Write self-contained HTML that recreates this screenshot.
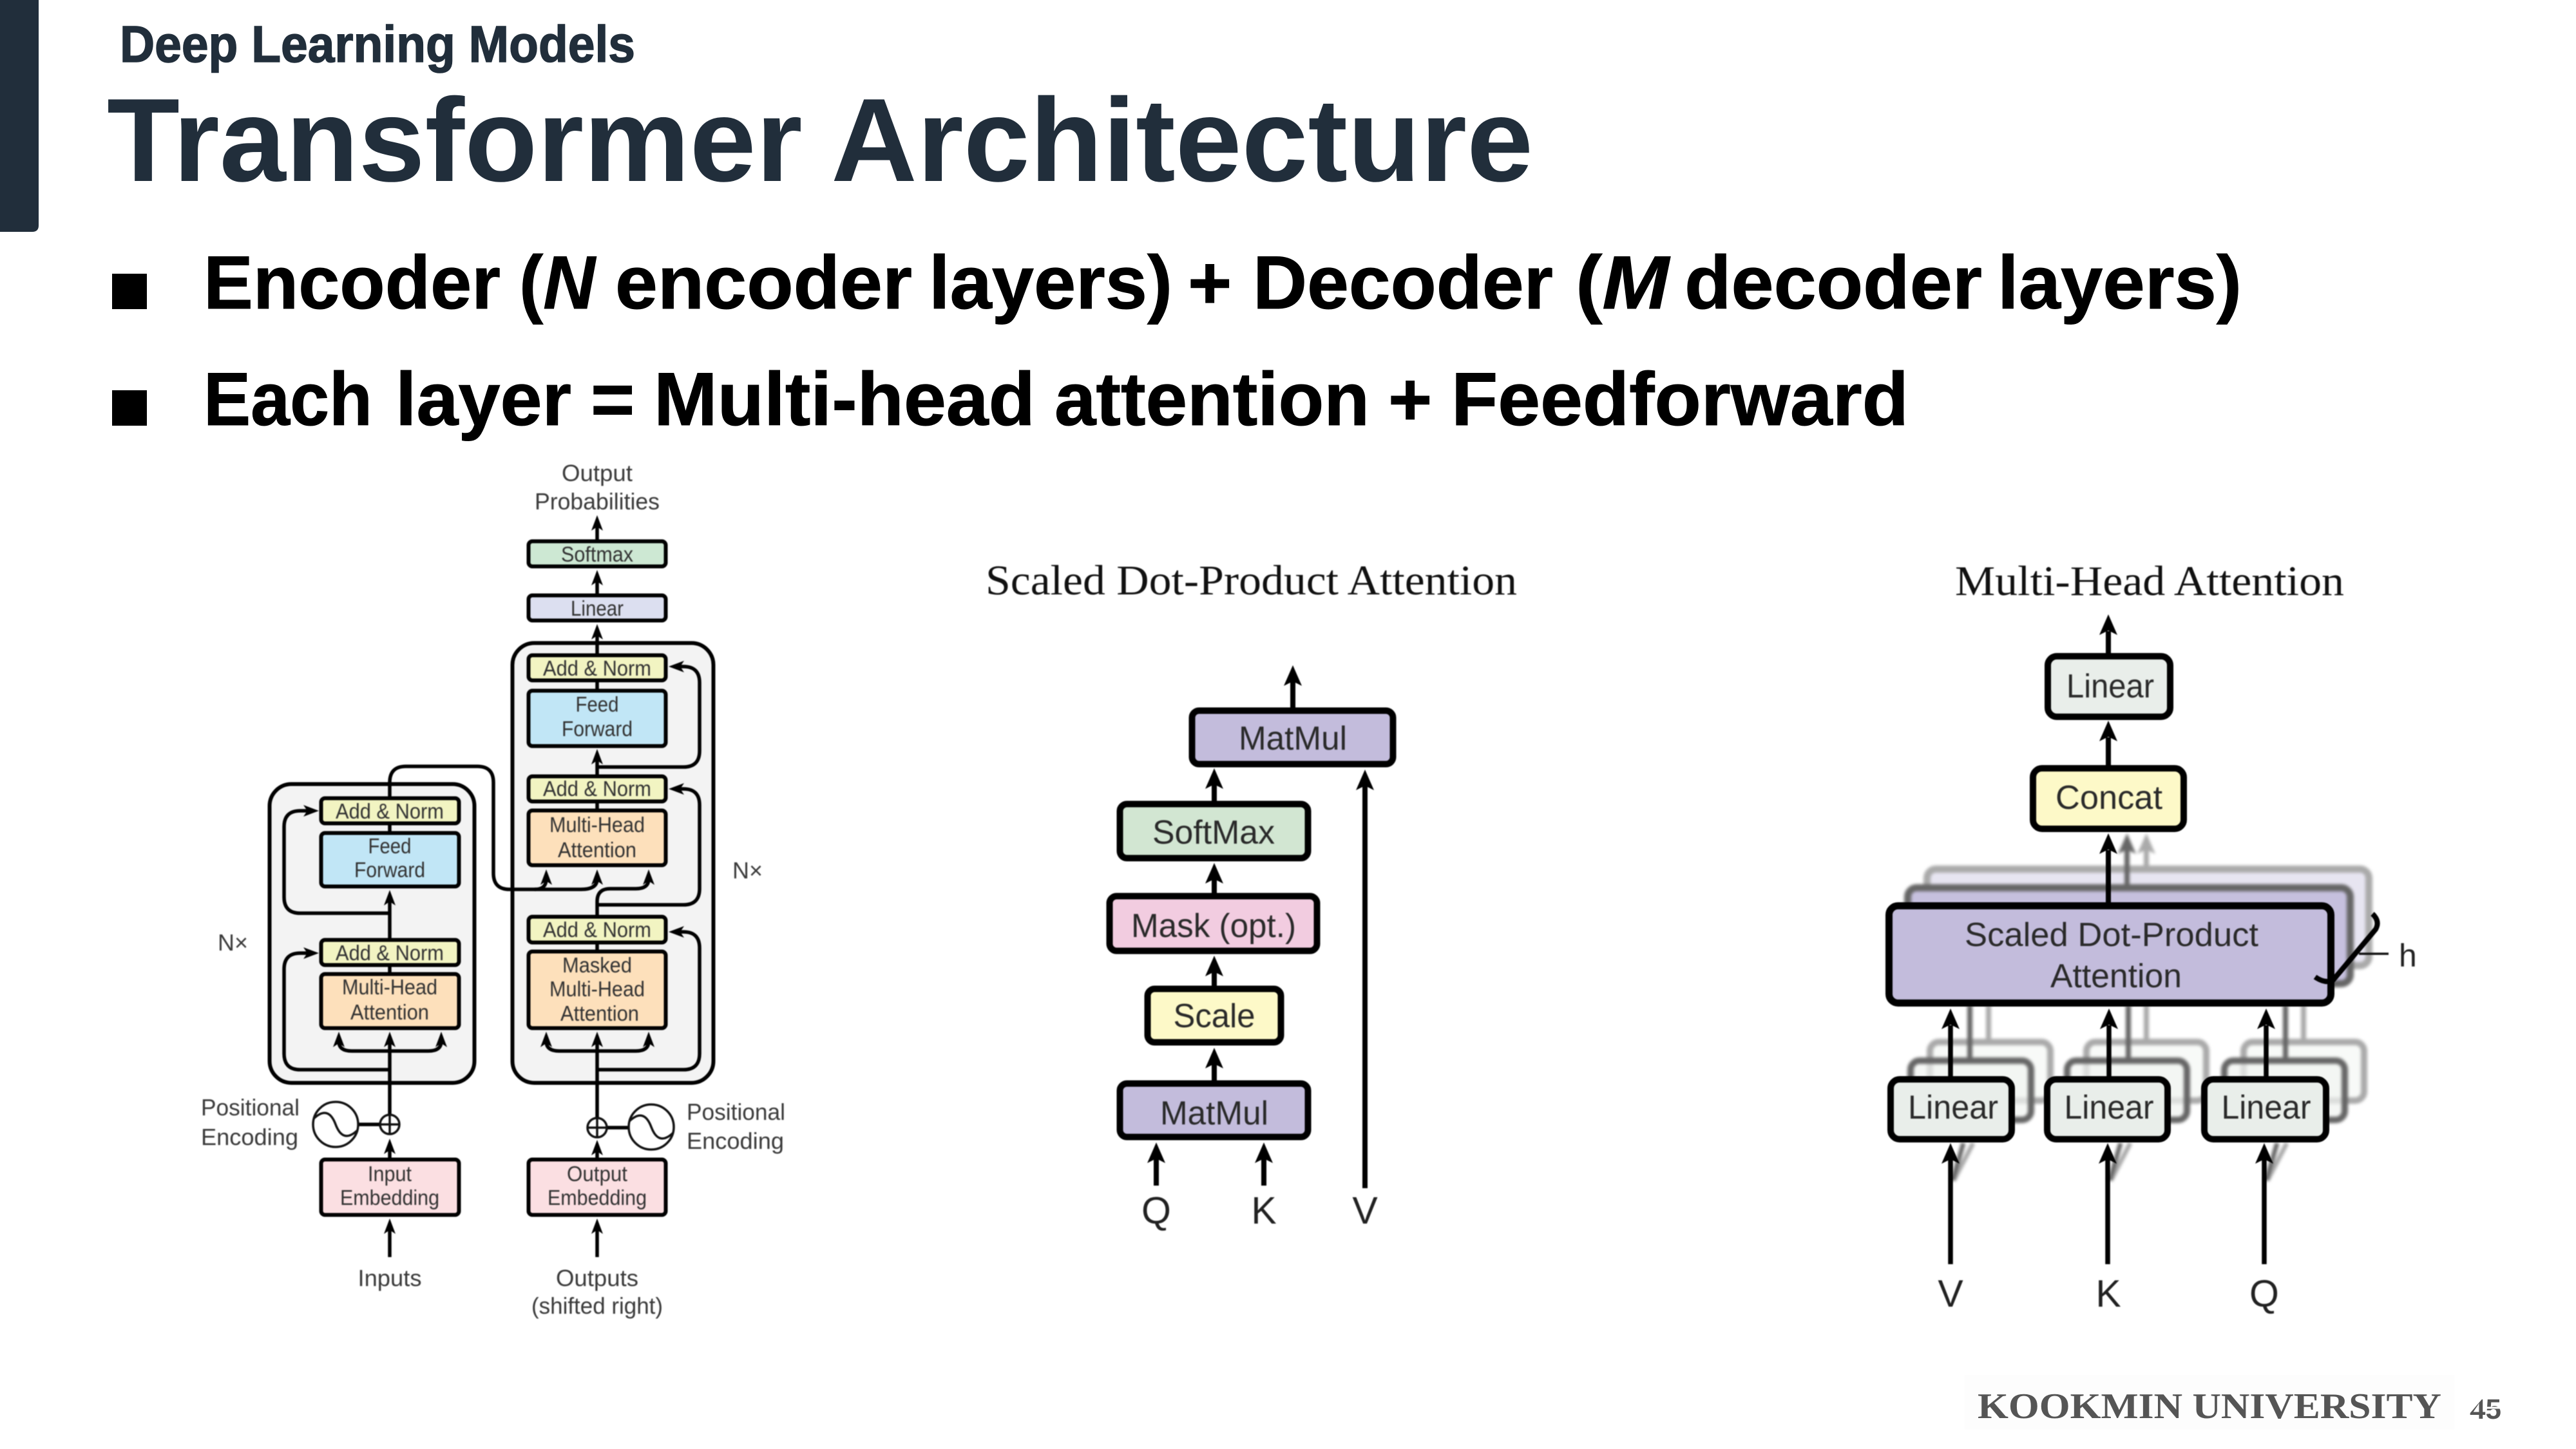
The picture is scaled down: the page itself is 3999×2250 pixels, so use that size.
<!DOCTYPE html>
<html><head><meta charset="utf-8"><title>Transformer Architecture</title>
<style>
html,body{margin:0;padding:0;background:#fff;width:3999px;height:2250px;overflow:hidden}
svg{display:block}
text{font-family:"Liberation Sans",sans-serif;fill:#333}
.s{font-size:33px;text-anchor:middle}
.l{font-size:36px;text-anchor:middle;fill:#3a3a3a}
.ll{font-size:36px;fill:#3a3a3a}
.m{font-size:52px;text-anchor:middle;fill:#2a2a2a}
.k{font-size:59px;text-anchor:middle;fill:#222}
.t{font-family:"Liberation Serif",serif;font-size:66px;fill:#111}
.b{stroke:#000;stroke-width:6}
.c{fill:none;stroke:#000;stroke-width:5.5}
.d{stroke:#000;stroke-width:10}
.dl{fill:none;stroke:#000;stroke-width:8}
.h{font-weight:700;font-size:117px;fill:#000;stroke:#000;stroke-width:1}
.soft{filter:blur(.7px)}
</style></head><body>
<svg xmlns="http://www.w3.org/2000/svg" width="3999" height="2250" viewBox="0 0 3999 2250">
<defs>
<path id="u" d="M0 0L9 24L0 18L-9 24Z"/>
<path id="U" d="M0 0L14 32L0 25L-14 32Z"/>
</defs>
<rect width="3999" height="2250" fill="#fff"/>

<!-- header -->
<path d="M0 0H60V350Q60 360 50 360H0Z" fill="#212e3b"/>
<text x="186" y="96" font-size="80" font-weight="700" textLength="800" lengthAdjust="spacingAndGlyphs" style="fill:#212e3b;stroke:#212e3b;stroke-width:1.5">Deep Learning Models</text>
<text x="166" y="281" font-size="184" font-weight="700" textLength="2214" lengthAdjust="spacingAndGlyphs" style="fill:#212e3b">Transformer Architecture</text>
<rect x="174" y="425" width="54" height="55" fill="#000"/>
<rect x="174" y="606" width="54" height="55" fill="#000"/>
<text class="h" x="316" y="479" textLength="461" lengthAdjust="spacingAndGlyphs">Encoder</text>
<text class="h" x="806" y="479" textLength="118" lengthAdjust="spacingAndGlyphs">(<tspan font-style="italic">N</tspan></text>
<text class="h" x="955" y="479" textLength="461" lengthAdjust="spacingAndGlyphs">encoder</text>
<text class="h" x="1442" y="479" textLength="378" lengthAdjust="spacingAndGlyphs">layers)</text>
<text class="h" x="1844" y="479">+</text>
<text class="h" x="1945" y="479" textLength="466" lengthAdjust="spacingAndGlyphs">Decoder</text>
<text class="h" x="2446" y="479" textLength="145" lengthAdjust="spacingAndGlyphs">(<tspan font-style="italic">M</tspan></text>
<text class="h" x="2615" y="479" textLength="462" lengthAdjust="spacingAndGlyphs">decoder</text>
<text class="h" x="3101" y="479" textLength="379" lengthAdjust="spacingAndGlyphs">layers)</text>
<text class="h" x="316" y="660" textLength="262" lengthAdjust="spacingAndGlyphs">Each</text>
<text class="h" x="614" y="660" textLength="273" lengthAdjust="spacingAndGlyphs">layer</text>
<text class="h" x="917" y="660">=</text>
<text class="h" x="1015" y="660" textLength="592" lengthAdjust="spacingAndGlyphs">Multi-head</text>
<text class="h" x="1637" y="660" textLength="489" lengthAdjust="spacingAndGlyphs">attention</text>
<text class="h" x="2155" y="660">+</text>
<text class="h" x="2253" y="660" textLength="710" lengthAdjust="spacingAndGlyphs">Feedforward</text>

<!-- ========== Encoder / decoder ========== -->
<g class="soft">
<rect x="418.5" y="1217.5" width="318" height="464" rx="34" fill="#f3f3f3" class="b"/>
<rect x="795.5" y="998.5" width="312" height="683" rx="34" fill="#f3f3f3" class="b"/>
<path class="c" d="M605 1418H466Q441 1418 441 1393V1284Q441 1259 466 1259H480"/>
<path class="c" d="M605 1661H466Q441 1661 441 1636V1505Q441 1480 466 1480H480"/>
<path class="c" d="M927 1191H1061Q1086 1191 1086 1166V1060Q1086 1035 1061 1035H1053"/>
<path class="c" d="M927 1405H1061Q1086 1405 1086 1380V1250Q1086 1225 1061 1225H1053"/>
<path class="c" d="M927 1661H1061Q1086 1661 1086 1636V1472Q1086 1447 1061 1447H1053"/>
<path class="c" d="M605 1238V1215Q605 1190 630 1190H741Q766 1190 766 1215V1356Q766 1381 791 1381H902Q927 1381 927 1365"/>
<path class="c" d="M830 1381Q848 1381 848 1365"/>
<path class="c" d="M927 1421V1400Q927 1380 947 1380H987Q1007 1380 1007 1365"/>
<path class="c" d="M605 1632H546Q526 1632 526 1617M605 1632H665Q685 1632 685 1617"/>
<path class="c" d="M927 1632H868Q848 1632 848 1617M927 1632H987Q1007 1632 1007 1617"/>
<path class="c" d="M605 1731V1617M927 1736V1617M605 1799V1783M927 1799V1785M605 1952V1907M927 1952V1907
M927 839V815M927 923V900M927 1016V984M927 1071V1058M927 1204V1178M927 1257V1246M927 1476V1465
M605 1292V1280M605 1458V1397M605 1511V1500M556 1746H589M943 1751H976"/>
<use href="#u" x="927" y="800"/><use href="#u" x="927" y="885"/><use href="#u" x="927" y="969"/>
<use href="#u" x="927" y="1163"/><use href="#u" x="848" y="1350"/><use href="#u" x="927" y="1350"/>
<use href="#u" x="1007" y="1350"/><use href="#u" x="605" y="1382"/><use href="#u" x="526" y="1602"/>
<use href="#u" x="605" y="1602"/><use href="#u" x="685" y="1602"/><use href="#u" x="848" y="1602"/>
<use href="#u" x="927" y="1602"/><use href="#u" x="1007" y="1602"/><use href="#u" x="605" y="1768"/>
<use href="#u" x="927" y="1770"/><use href="#u" x="605" y="1892"/><use href="#u" x="927" y="1892"/>
<use href="#u" transform="translate(495 1259) rotate(90)"/>
<use href="#u" transform="translate(495 1480) rotate(90)"/>
<use href="#u" transform="translate(1038 1035) rotate(-90)"/>
<use href="#u" transform="translate(1038 1225) rotate(-90)"/>
<use href="#u" transform="translate(1038 1447) rotate(-90)"/>
<g class="b">
<rect x="820.5" y="840.5" width="213" height="39" rx="6" fill="#cde8d3"/>
<rect x="820.5" y="924.5" width="213" height="39" rx="6" fill="#dcdff0"/>
<rect x="820.5" y="1017.5" width="213" height="39" rx="6" fill="#f2f4c2"/>
<rect x="820.5" y="1072.5" width="213" height="86" rx="6" fill="#c1e6f6"/>
<rect x="820.5" y="1205.5" width="213" height="39" rx="6" fill="#f2f4c2"/>
<rect x="820.5" y="1258.5" width="213" height="85" rx="6" fill="#fde0bb"/>
<rect x="820.5" y="1423.5" width="213" height="40" rx="6" fill="#f2f4c2"/>
<rect x="820.5" y="1477.5" width="213" height="119" rx="6" fill="#fde0bb"/>
<rect x="820.5" y="1800.5" width="213" height="86" rx="6" fill="#fbdfe2"/>
<rect x="498.5" y="1239.5" width="214" height="39" rx="6" fill="#f2f4c2"/>
<rect x="498.5" y="1293.5" width="214" height="83" rx="6" fill="#c1e6f6"/>
<rect x="498.5" y="1459.5" width="214" height="39" rx="6" fill="#f2f4c2"/>
<rect x="498.5" y="1512.5" width="214" height="84" rx="6" fill="#fde0bb"/>
<rect x="498.5" y="1800.5" width="214" height="86" rx="6" fill="#fbdfe2"/>
</g>
<g fill="#fff" stroke="#111" stroke-width="3.5">
<circle cx="521" cy="1746" r="35"/><circle cx="1011" cy="1750" r="35"/>
<circle cx="605" cy="1746" r="15"/><circle cx="927" cy="1751" r="15"/>
<path fill="none" d="M487 1737C505 1720 515 1730 521 1746S537 1772 555 1755M977 1741C995 1724 1005 1734 1011 1750S1027 1776 1045 1759M605 1731V1761M590 1746H620M927 1736V1766M912 1751H942"/>
</g>
<text class="s" x="927" y="872" textLength="112" lengthAdjust="spacingAndGlyphs">Softmax</text>
<text class="s" x="927" y="956" textLength="82" lengthAdjust="spacingAndGlyphs">Linear</text>
<text class="s" x="927" y="1049" textLength="168" lengthAdjust="spacingAndGlyphs">Add &amp; Norm</text>
<text class="s" x="927" y="1105" textLength="67" lengthAdjust="spacingAndGlyphs">Feed</text>
<text class="s" x="927" y="1143" textLength="110" lengthAdjust="spacingAndGlyphs">Forward</text>
<text class="s" x="927" y="1236" textLength="168" lengthAdjust="spacingAndGlyphs">Add &amp; Norm</text>
<text class="s" x="927" y="1292" textLength="148" lengthAdjust="spacingAndGlyphs">Multi-Head</text>
<text class="s" x="927" y="1331" textLength="122" lengthAdjust="spacingAndGlyphs">Attention</text>
<text class="s" x="927" y="1455" textLength="168" lengthAdjust="spacingAndGlyphs">Add &amp; Norm</text>
<text class="s" x="927" y="1510" textLength="108" lengthAdjust="spacingAndGlyphs">Masked</text>
<text class="s" x="927" y="1547" textLength="148" lengthAdjust="spacingAndGlyphs">Multi-Head</text>
<text class="s" x="931" y="1585" textLength="122" lengthAdjust="spacingAndGlyphs">Attention</text>
<text class="s" x="927" y="1834" textLength="94" lengthAdjust="spacingAndGlyphs">Output</text>
<text class="s" x="927" y="1871" textLength="154" lengthAdjust="spacingAndGlyphs">Embedding</text>
<text class="s" x="605" y="1271" textLength="168" lengthAdjust="spacingAndGlyphs">Add &amp; Norm</text>
<text class="s" x="605" y="1325" textLength="67" lengthAdjust="spacingAndGlyphs">Feed</text>
<text class="s" x="605" y="1362" textLength="110" lengthAdjust="spacingAndGlyphs">Forward</text>
<text class="s" x="605" y="1491" textLength="168" lengthAdjust="spacingAndGlyphs">Add &amp; Norm</text>
<text class="s" x="605" y="1544" textLength="148" lengthAdjust="spacingAndGlyphs">Multi-Head</text>
<text class="s" x="605" y="1583" textLength="122" lengthAdjust="spacingAndGlyphs">Attention</text>
<text class="s" x="605" y="1834" textLength="68" lengthAdjust="spacingAndGlyphs">Input</text>
<text class="s" x="605" y="1871" textLength="154" lengthAdjust="spacingAndGlyphs">Embedding</text>
<text class="l" x="927" y="747" textLength="110" lengthAdjust="spacingAndGlyphs">Output</text>
<text class="l" x="927" y="791" textLength="194" lengthAdjust="spacingAndGlyphs">Probabilities</text>
<text class="l" x="605" y="1997" textLength="99" lengthAdjust="spacingAndGlyphs">Inputs</text>
<text class="l" x="927" y="1997" textLength="128" lengthAdjust="spacingAndGlyphs">Outputs</text>
<text class="l" x="927" y="2040" textLength="204" lengthAdjust="spacingAndGlyphs">(shifted right)</text>
<text class="ll" x="312" y="1732" textLength="153" lengthAdjust="spacingAndGlyphs">Positional</text>
<text class="ll" x="312" y="1778" textLength="151" lengthAdjust="spacingAndGlyphs">Encoding</text>
<text class="ll" x="1066" y="1739" textLength="153" lengthAdjust="spacingAndGlyphs">Positional</text>
<text class="ll" x="1066" y="1784" textLength="151" lengthAdjust="spacingAndGlyphs">Encoding</text>
<text class="ll" x="338" y="1476" textLength="47" lengthAdjust="spacingAndGlyphs">N×</text>
<text class="ll" x="1137" y="1364" textLength="47" lengthAdjust="spacingAndGlyphs">N×</text>
</g>

<!-- ========== Scaled dot product ========== -->
<g class="soft">
<text class="t" x="1530" y="923" textLength="825" lengthAdjust="spacingAndGlyphs">Scaled Dot-Product Attention</text>
<path class="dl" d="M2007 1101V1058M1885 1246V1218M1885 1389V1365M1885 1533V1509M1885 1680V1652M1795 1841V1799M1962 1841V1799M2119 1845V1220"/>
<use href="#U" x="2007" y="1033"/><use href="#U" x="1885" y="1193"/><use href="#U" x="1885" y="1340"/>
<use href="#U" x="1885" y="1484"/><use href="#U" x="1885" y="1627"/><use href="#U" x="1795" y="1774"/>
<use href="#U" x="1962" y="1774"/><use href="#U" x="2119" y="1195"/>
<g class="d">
<rect x="1850.5" y="1103.5" width="312" height="83" rx="11" fill="#c3bcdc"/>
<rect x="1738.5" y="1248.5" width="292" height="84" rx="11" fill="#d2e6d2"/>
<rect x="1722.5" y="1391.5" width="322" height="85" rx="11" fill="#f2cce0"/>
<rect x="1781.5" y="1535.5" width="207" height="83" rx="11" fill="#fdf9c8"/>
<rect x="1738.5" y="1682.5" width="292" height="83" rx="11" fill="#c3bcdc"/>
</g>
<text class="m" x="2007" y="1164" textLength="168" lengthAdjust="spacingAndGlyphs">MatMul</text>
<text class="m" x="1884" y="1310" textLength="190" lengthAdjust="spacingAndGlyphs">SoftMax</text>
<text class="m" x="1884" y="1455" textLength="256" lengthAdjust="spacingAndGlyphs">Mask (opt.)</text>
<text class="m" x="1885" y="1595" textLength="127" lengthAdjust="spacingAndGlyphs">Scale</text>
<text class="m" x="1885" y="1746" textLength="168" lengthAdjust="spacingAndGlyphs">MatMul</text>
<text class="k" x="1795" y="1900">Q</text><text class="k" x="1962" y="1900">K</text><text class="k" x="2119" y="1900">V</text>
</g>

<!-- ========== Multi-head ========== -->
<g class="soft">
<text class="t" x="3035" y="924" textLength="604" lengthAdjust="spacingAndGlyphs">Multi-Head Attention</text>
</g>
<!-- back stacks -->
<g style="filter:blur(2.5px)">
<path d="M3332 1345V1310" stroke="#aaa" stroke-width="8" fill="none"/>
<use href="#U" x="3332" y="1294" fill="#aaa"/>
<rect x="2991.5" y="1349.5" width="686" height="150" rx="14" fill="#e7e5f1" stroke="#aaa" stroke-width="11"/>
<path d="M3302 1375V1310" stroke="#666" stroke-width="8" fill="none"/>
<use href="#U" x="3302" y="1294" fill="#666"/>
<rect x="2961.5" y="1378.5" width="687" height="149" rx="14" fill="#c6c0de" stroke="#666" stroke-width="11"/>
<g fill="#f8faf8" stroke="#aaa" stroke-width="10">
<rect x="2996" y="1618" width="187" height="91" rx="14"/>
<rect x="3239" y="1618" width="186" height="91" rx="14"/>
<rect x="3483" y="1618" width="187" height="91" rx="14"/>
</g>
<path d="M3087 1561V1618M3332 1561V1618M3576 1561V1618" stroke="#aaa" stroke-width="8" fill="none"/>
<g fill="#f1f4f1" fill-opacity=".7" stroke="#666" stroke-width="10">
<rect x="2966" y="1647" width="187" height="92" rx="14"/>
<rect x="3209" y="1647" width="186" height="92" rx="14"/>
<rect x="3453" y="1647" width="187" height="92" rx="14"/>
</g>
<path d="M3058 1561V1647M3304 1561V1647M3548 1561V1647" stroke="#666" stroke-width="8" fill="none"/>
<path d="M3033 1833L3063 1775M3277 1833L3307 1775M3520 1833L3550 1775" stroke="#aaa" stroke-width="7" fill="none"/>
<path d="M3031 1833L3048 1775M3275 1833L3292 1775M3518 1833L3535 1775" stroke="#666" stroke-width="7" fill="none"/>
</g>
<g class="soft">
<path class="dl" d="M3273 1016V980M3273 1190V1145M3273 1403V1320"/>
<use href="#U" x="3273" y="954"/><use href="#U" x="3273" y="1119"/><use href="#U" x="3273" y="1294"/>
<path d="M3028 1673V1592M3274 1673V1592M3518 1673V1592M3028 1963V1800M3272 1963V1800M3515 1963V1800" fill="none" stroke="#000" stroke-width="7.5"/>
<use href="#U" x="3028" y="1566"/><use href="#U" x="3274" y="1566"/><use href="#U" x="3518" y="1566"/>
<use href="#U" x="3028" y="1775"/><use href="#U" x="3272" y="1775"/><use href="#U" x="3515" y="1775"/>
<g class="d">
<rect x="3179" y="1019" width="190" height="94" rx="14" fill="#e9eeea"/>
<rect x="3156" y="1193" width="234" height="94" rx="14" fill="#fdf9c8"/>
<rect x="2932.5" y="1406.5" width="686" height="151" rx="14" fill="#c3bcdc" style="stroke-width:11"/>
<rect x="2935" y="1676" width="188" height="93" rx="14" fill="#e9eeea"/>
<rect x="3178" y="1676" width="187" height="93" rx="14" fill="#e9eeea"/>
<rect x="3422" y="1676" width="189" height="93" rx="14" fill="#e9eeea"/>
</g>
<path d="M3594 1517Q3608 1527 3621 1523L3688 1443Q3695 1430 3683 1419" fill="none" stroke="#000" stroke-width="8"/>
<path d="M3662 1481H3708" stroke="#111" stroke-width="3.5"/>
<text x="3724" y="1501" font-size="50" style="fill:#222">h</text>
<text class="m" x="3276" y="1083" textLength="136" lengthAdjust="spacingAndGlyphs">Linear</text>
<text class="m" x="3274" y="1256" textLength="166" lengthAdjust="spacingAndGlyphs">Concat</text>
<text class="m" x="3278" y="1469" textLength="456" lengthAdjust="spacingAndGlyphs">Scaled Dot-Product</text>
<text class="m" x="3285" y="1533" textLength="204" lengthAdjust="spacingAndGlyphs">Attention</text>
<text class="m" x="3032" y="1737" textLength="140" lengthAdjust="spacingAndGlyphs">Linear</text>
<text class="m" x="3274" y="1737" textLength="139" lengthAdjust="spacingAndGlyphs">Linear</text>
<text class="m" x="3518" y="1737" textLength="139" lengthAdjust="spacingAndGlyphs">Linear</text>
<text class="k" x="3028" y="2029">V</text><text class="k" x="3273" y="2029">K</text><text class="k" x="3515" y="2029">Q</text>
</g>

<!-- footer -->
<rect x="3050" y="2135" width="760" height="85" fill="#fdfdfd"/>
<text x="3070" y="2202" font-size="56" font-weight="700" textLength="720" lengthAdjust="spacingAndGlyphs" style="font-family:'Liberation Serif',serif;fill:#555">KOOKMIN UNIVERSITY</text>
<text x="3834" y="2203" font-size="44" font-weight="700" style="fill:#555">45</text>
<path d="M3830 2195L3853 2168" stroke="#fff" stroke-width="6"/>
<path d="M3860 2186H3885" stroke="#fff" stroke-width="3"/>
</svg>
</body></html>
